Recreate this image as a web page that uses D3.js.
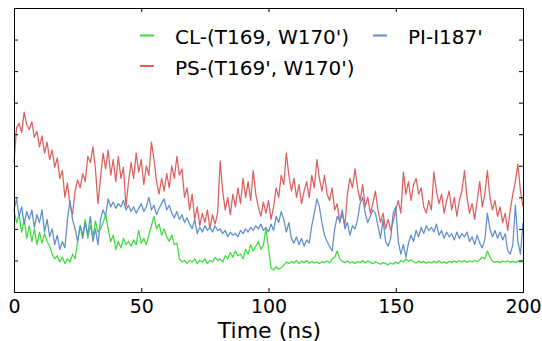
<!DOCTYPE html>
<html><head><meta charset="utf-8">
<script src="https://cdn.jsdelivr.net/npm/d3@7"></script>
<style>html,body{margin:0;padding:0;background:#fff;}svg{display:block;}</style>
</head><body>
<svg id="chart" width="542" height="341"></svg>
<script>
const times = d3.range(0, 201, 1);
const xTicks = [0, 50, 100, 150, 200];
const yTicks = [0, 1, 2, 3, 4, 5, 6, 7, 8, 9];
const seriesNames = ["CL-(T169, W170')", "PS-(T169', W170')", "PI-I187'"];
const seriesColors = ["#3ddc3d", "#dd5f5f", "#5f8ecb"];

const psValues = [4.1,5.2,5.35,5.05,5.7,5.3,5.15,5.4,4.9,5.1,4.6,4.95,4.4,4.75,4.2,4.5,3.95,4.25,3.6,3.85,
3.0,3.45,2.75,2.45,3.2,3.55,3.3,3.75,3.5,4.3,4.1,4.6,3.9,2.8,3.6,4.4,3.9,4.5,3.7,4.2,
3.5,4.3,3.6,3.95,2.7,3.5,4.1,3.6,4.4,3.8,4.2,3.4,4.0,3.7,4.75,4.2,3.5,3.1,3.6,3.2,
3.75,3.3,4.0,3.6,4.3,3.7,3.9,3.0,3.3,2.6,3.1,2.3,2.7,2.1,2.5,2.2,2.6,2.0,2.45,2.15,
2.5,4.15,3.2,2.6,3.0,2.45,3.1,2.7,3.3,2.8,3.6,3.0,3.5,2.9,3.85,3.1,2.7,2.4,2.85,2.5,
2.9,2.3,2.7,3.3,3.0,3.7,3.4,4.4,3.7,3.2,3.6,3.0,3.4,2.8,3.2,3.5,3.0,3.7,3.3,4.2,
3.6,3.2,3.7,3.1,2.9,3.3,2.6,2.8,2.2,2.5,2.1,3.1,3.6,3.3,3.9,3.3,2.9,3.4,2.7,3.0,
2.5,2.8,3.2,2.6,2.2,2.5,2.0,2.3,1.95,2.25,2.6,2.9,2.5,3.8,3.1,3.5,2.9,3.4,3.6,3.1,
3.3,2.7,2.5,2.9,2.6,3.8,3.2,2.8,3.1,2.5,2.9,3.2,2.6,3.0,2.4,2.9,3.2,3.85,3.0,2.5,
2.8,2.3,2.9,3.5,2.7,3.1,3.85,3.0,2.6,2.9,2.4,2.7,2.2,2.5,1.95,2.6,3.1,3.5,4.05,3.2,2.7];

const piValues = [2.6,2.95,2.4,2.7,2.15,2.55,2.3,2.6,2.05,2.45,2.2,2.6,1.9,2.3,1.75,2.0,1.5,1.8,1.35,1.6,
1.4,2.3,2.9,2.3,2.0,1.6,2.1,1.7,2.2,1.8,2.4,1.6,2.0,1.5,2.3,2.6,2.4,2.95,2.7,2.85,
2.65,2.8,2.7,2.9,2.6,2.75,2.55,2.7,2.5,2.65,2.8,2.55,2.7,3.0,2.6,2.75,2.45,2.65,2.8,2.95,
2.6,2.75,2.5,2.35,2.55,2.3,2.45,2.2,2.35,2.15,2.0,2.3,1.85,2.05,1.9,2.1,1.95,2.05,1.9,2.1,
1.95,2.0,1.85,1.95,1.75,1.9,1.8,1.85,1.75,1.95,1.85,2.0,1.9,2.05,1.95,2.1,2.0,2.15,1.95,2.05,
1.9,2.15,1.95,2.4,2.2,2.55,2.3,1.9,2.2,1.7,1.55,1.75,1.5,1.7,1.45,1.65,1.55,2.1,2.5,2.95,
2.7,2.2,1.8,1.6,1.45,1.3,2.0,2.4,2.25,2.6,2.0,2.2,1.8,2.1,2.0,2.3,2.8,3.0,2.5,2.2,
2.4,2.6,2.5,2.1,1.7,2.3,1.6,1.45,1.7,2.5,2.7,1.6,1.2,1.5,1.1,1.55,1.8,1.6,1.95,1.75,
2.05,1.85,2.1,1.95,2.05,1.9,2.15,1.8,1.95,1.7,1.9,1.75,1.85,1.65,1.9,1.7,1.85,1.75,1.9,1.6,
1.75,1.5,1.8,1.55,1.4,1.65,2.5,2.0,1.75,1.95,1.7,1.9,1.65,1.85,1.3,1.2,1.5,2.75,1.6,1.2,2.2];

const clValues = [2.6,2.2,2.45,1.9,2.3,1.7,2.1,1.6,2.0,1.5,1.9,1.55,1.85,1.6,1.45,1.2,1.05,1.15,0.95,1.1,
0.9,1.05,0.95,1.2,1.05,1.6,2.1,1.8,2.3,1.7,2.1,1.75,2.25,1.9,2.0,2.2,2.45,2.0,1.6,1.8,
1.35,1.6,1.4,1.7,1.5,1.6,1.45,1.65,1.5,1.95,1.55,1.7,1.5,1.8,2.1,2.4,2.0,2.15,1.8,2.0,
1.75,1.6,1.8,1.5,1.55,1.05,0.95,1.0,0.9,1.0,0.95,1.05,0.9,1.0,0.95,1.05,0.9,1.0,0.95,1.1,
1.0,1.05,0.95,1.15,1.05,1.25,1.1,1.3,1.15,1.2,1.05,1.35,1.2,1.5,1.3,1.45,1.6,1.35,1.5,2.0,
1.4,0.75,0.7,0.8,0.72,0.78,0.85,0.95,0.9,0.97,0.92,1.0,0.9,0.98,0.93,1.0,0.91,0.97,0.92,0.95,
0.9,0.96,0.93,0.98,0.92,1.05,1.1,1.3,1.05,0.97,0.93,0.98,0.92,0.96,0.9,0.97,0.93,1.0,0.92,0.98,
0.94,0.9,0.96,0.92,0.88,0.93,0.9,0.86,0.92,0.88,0.95,0.9,1.0,0.95,1.05,0.97,1.02,0.96,0.92,0.98,
0.93,0.97,0.91,0.96,0.92,0.97,0.93,0.98,0.92,0.96,0.91,0.97,0.93,0.98,0.94,0.99,0.95,1.0,0.94,0.98,
0.95,1.0,0.96,1.02,1.1,1.05,1.3,1.1,0.98,0.94,0.97,0.93,0.98,0.95,0.99,0.94,0.97,0.93,0.98,0.95,0.97];

const svg = d3.select("#chart");
const m = {left: 14, right: 523, top: 8, bottom: 292};
const x = d3.scaleLinear().domain([0, 200]).range([m.left, m.right]);
const y = d3.scaleLinear().domain([0, 9]).range([m.bottom, m.top]);
const font = "'DejaVu Sans', sans-serif";

const line = d3.line().x((d, i) => x(times[i])).y(d => y(d));
// draw order: green, red, blue
[[clValues,0],[psValues,1],[piValues,2]].forEach(([vals, k]) => {
  svg.append("path").datum(vals).attr("d", line)
    .attr("fill", "none").attr("stroke", seriesColors[k])
    .attr("stroke-width", 1.25).attr("stroke-linejoin", "round");
});

// axes
const tl = 4;
const gBottom = svg.append("g").attr("transform", `translate(0,${m.bottom})`)
  .call(d3.axisBottom(x).tickValues(xTicks).tickSize(-tl).tickPadding(8).tickFormat(d3.format("d")));
const gTop = svg.append("g").attr("transform", `translate(0,${m.top})`)
  .call(d3.axisTop(x).tickValues(xTicks).tickSize(-tl).tickFormat(""));
const gLeft = svg.append("g").attr("transform", `translate(${m.left},0)`)
  .call(d3.axisLeft(y).tickValues(yTicks).tickSize(-tl).tickFormat(""));
const gRight = svg.append("g").attr("transform", `translate(${m.right},0)`)
  .call(d3.axisRight(y).tickValues(yTicks).tickSize(-tl).tickFormat(""));
[gBottom, gTop, gLeft, gRight].forEach(g => {
  g.select(".domain").attr("stroke", "#000").attr("stroke-width", 1);
  g.selectAll(".tick line").attr("stroke", "#000").attr("stroke-width", 1);
});
gBottom.selectAll(".tick text").attr("font-family", font).attr("font-size", 19).attr("fill", "#000");

svg.append("text").attr("x", (m.left + m.right) / 2 + 1).attr("y", 337.5)
  .attr("text-anchor", "middle").attr("font-family", font).attr("font-size", 22)
  .attr("fill", "#000").text("Time (ns)");

// legend
const legendItems = [
  {k: 0, lx: 140, ly: 35.5},
  {k: 1, lx: 140, ly: 66},
  {k: 2, lx: 373, ly: 35.5}
];
legendItems.forEach(it => {
  svg.append("line").attr("x1", it.lx).attr("x2", it.lx + 14)
    .attr("y1", it.ly).attr("y2", it.ly)
    .attr("stroke", seriesColors[it.k]).attr("stroke-width", 2);
  svg.append("text").attr("x", it.lx + 35).attr("y", it.ly + 8.5)
    .attr("font-family", font).attr("font-size", 20).attr("fill", "#000")
    .text(seriesNames[it.k]);
});
</script>
</body></html>
